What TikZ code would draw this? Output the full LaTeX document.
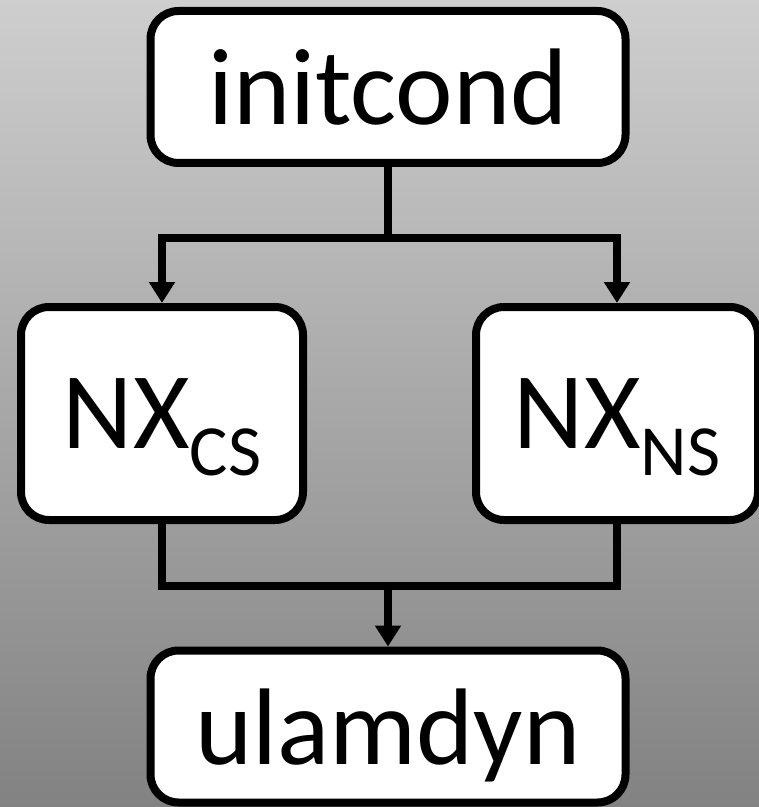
\documentclass[tikz,border=0pt]{standalone}
\usepackage{fontspec}
\setmainfont{Carlito}
\usetikzlibrary{arrows.meta}
\definecolor{bgtop}{RGB}{206,206,206}
\definecolor{bgbot}{RGB}{130,130,130}
\newcommand{\subtxt}[1]{\raisebox{-0.54cm}{\fontsize{41}{45}\selectfont #1}}

\begin{document}
\begin{tikzpicture}[x = 0.02cm, y = -0.02cm,
  box/.style = {draw, fill=white, line width=8*0.02cm, rounded corners=0.56cm,
    inner sep=0pt, text depth=0pt, font=\fontsize{62}{70}\selectfont},
  wide/.style = {box, minimum width=475*0.02cm, minimum height=152*0.02cm},
  tall/.style = {box, minimum width=282*0.02cm, minimum height=213*0.02cm},
  conn/.style = {line width=8*0.02cm},
  arr/.style = {conn, -{Triangle[length=0.42cm,width=0.5cm]}}]
\useasboundingbox (0,0) rectangle (759,807);
\shade [top color=bgtop, bottom color=bgbot] (0,0) rectangle (759,807);
\node [wide] (init) at (388,87) {initcond};
\node [tall] (cs) at (162,413.5) {NX\subtxt{CS}};
\node [tall] (ns) at (617,413.5) {NX\subtxt{NS}};
\node [wide] (ulam) at (388,726.5) {ulamdyn};
\coordinate (fork) at (388,238);
\coordinate (join) at (388,586);
\draw [conn] (init) -- (fork);
\draw [arr] (fork) -| (cs);
\draw [arr] (fork) -| (ns);
\draw [conn] (cs) |- (join) -| (ns);
\draw [arr] (join) -- (ulam);
\end{tikzpicture}
\end{document}
